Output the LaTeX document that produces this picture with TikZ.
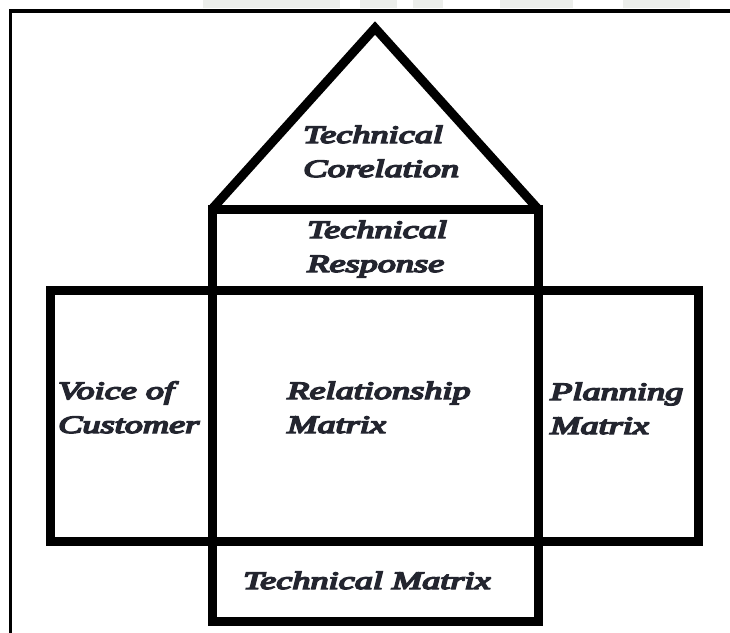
\documentclass[tikz,border=0pt]{standalone}
\usepackage{fontspec}
\setmainfont{Liberation Serif}
\newfontfamily\housefont{Liberation Serif}[UprightFont={* Italic}, FakeBold=5.5]
\usetikzlibrary{positioning}
\definecolor{ink}{HTML}{23252F}
\definecolor{faint}{HTML}{ECEEEB}

\begin{document}
\begin{tikzpicture}[x=1pt,y=-1pt,
    wall/.style={line width=9pt, line join=miter},
    lbl/.style={font=\fontsize{25}{34}\selectfont\housefont, text=ink,
      align=left, inner sep=0pt, anchor=base west, xscale=1.45, transform shape}]
  \useasboundingbox (0,0) rectangle (730,632);
  \clip (0,0) rectangle (730,632);
  % faded marks along the top edge
  \foreach \a/\b in {203/340,360/397,413/443,500/573,623/690}
    \fill[faint] (\a,0) rectangle (\b,8);
  \draw[line width=3.5pt] (10.5,10.8) rectangle (760,660);
  % roof and the five rooms
  \draw[wall] (212,209) -- (375,28) -- (538,209);
  \draw[wall] (212,209) rectangle (538,290);
  \draw[wall] (50,290) rectangle (212,541);
  \draw[wall] (212,290) rectangle (538,541);
  \draw[wall] (538,290) rectangle (698,541);
  \draw[wall] (212,541) rectangle (538,621);
  \node[lbl] (corel) at (303,177) {Technical\\Corelation};
  \node[lbl] (resp) at (307,272) {Technical\\Response};
  \node[lbl] (voice) at (58,433) {Voice of\\Customer};
  \node[lbl] (rel) at (287,433) {Relationship\\Matrix};
  \node[lbl] (plan) at (550,434) {Planning\\Matrix};
  \node[lbl] (techmat) at (243,589) {Technical Matrix};
\end{tikzpicture}
\end{document}
